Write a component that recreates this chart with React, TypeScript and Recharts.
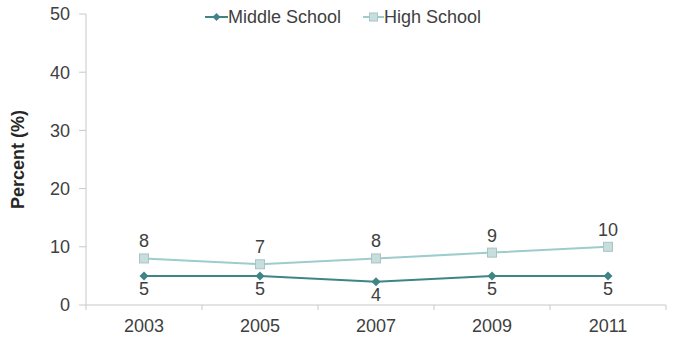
import { LineChart, Line, XAxis, YAxis, LabelList } from 'recharts';

const years = ['2003', '2005', '2007', '2009', '2011'];
const middleSchool = [5, 5, 4, 5, 5];
const highSchool = [8, 7, 8, 9, 10];
const yTicks = [0, 10, 20, 30, 40, 50];

const MIDDLE = '#3f8585';
const HIGH = '#9dcccc';
const TEXT = '#404040';
const AXIS = '#c8c8c8';
const FONT = '"Liberation Sans", Arial, sans-serif';

const W = 673;
const H = 337;
const LEFT = 86;
const RIGHT = 7;
const HALF_BAND = (W - LEFT - RIGHT) / years.length / 2;

const data = years.map((year, i) => ({
  year,
  middle: middleSchool[i],
  high: highSchool[i],
}));

// year label under each point, tick marks sit on the band edges
const YearTick = (props: any) => {
  const { x, y, payload, index } = props;
  return (
    <g>
      <line x1={x - HALF_BAND} x2={x - HALF_BAND} y1={y - 8} y2={y - 3} stroke={AXIS} />
      {index === years.length - 1 && (
        <line x1={x + HALF_BAND} x2={x + HALF_BAND} y1={y - 8} y2={y - 3} stroke={AXIS} />
      )}
      <text x={x} y={y + 19} textAnchor="middle" fill={TEXT} fontSize={18} fontFamily={FONT}>
        {payload.value}
      </text>
    </g>
  );
};

const Diamond = (props: any) => {
  const { cx, cy } = props;
  if (cx == null || cy == null) return null;
  return <path d={`M${cx},${cy - 4.5}L${cx + 4.5},${cy}L${cx},${cy + 4.5}L${cx - 4.5},${cy}Z`} fill={MIDDLE} />;
};

const Square = (props: any) => {
  const { cx, cy } = props;
  if (cx == null || cy == null) return null;
  return <rect x={cx - 4.5} y={cy - 4.5} width={9} height={9} fill="#c6dede" stroke="#a9c4c4" strokeWidth={1} />;
};

const LegendBox = () => (
  <div
    style={{
      position: 'absolute',
      left: 205,
      top: 6,
      display: 'flex',
      gap: 22,
      fontFamily: FONT,
      fontSize: 18,
      lineHeight: '22px',
      color: TEXT,
    }}
  >
    <span style={{ display: 'flex', alignItems: 'center' }}>
      <svg width={23} height={12}>
        <line x1={0} x2={23} y1={6} y2={6} stroke={MIDDLE} strokeWidth={2} />
        <path d="M11.5,2L15.5,6L11.5,10L7.5,6Z" fill={MIDDLE} />
      </svg>
      Middle School
    </span>
    <span style={{ display: 'flex', alignItems: 'center' }}>
      <svg width={21} height={12}>
        <line x1={0} x2={21} y1={6} y2={6} stroke={HIGH} strokeWidth={2} />
        <rect x={6.5} y={2} width={8} height={8} fill="#c6dede" stroke="#a9c4c4" />
      </svg>
      High School
    </span>
  </div>
);

export default function App() {
  return (
    <div style={{ position: 'absolute', left: 0, top: 0, width: W, height: H, background: '#fff' }}>
      <LineChart width={W} height={H} data={data} margin={{ top: 14, right: RIGHT, left: 26, bottom: 0 }}>
        <XAxis
          dataKey="year"
          stroke={AXIS}
          tickLine={false}
          tick={<YearTick />}
          height={32}
          padding={{ left: HALF_BAND, right: HALF_BAND }}
          interval={0}
        />
        <YAxis
          domain={[0, 50]}
          ticks={yTicks}
          width={60}
          stroke={AXIS}
          tickSize={7}
          tickMargin={9}
          tick={{ fill: TEXT, fontSize: 18, fontFamily: FONT }}
          label={{
            value: 'Percent (%)',
            angle: -90,
            position: 'insideLeft',
            offset: -8,
            style: { fill: '#262626', fontSize: 18, fontWeight: 'bold', fontFamily: FONT, textAnchor: 'middle' },
          }}
        />
        <Line
          dataKey="middle"
          name="Middle School"
          stroke={MIDDLE}
          strokeWidth={2}
          dot={<Diamond />}
          activeDot={false}
          isAnimationActive={false}
        >
          <LabelList dataKey="middle" position="bottom" offset={6} fill={TEXT} fontSize={18} fontFamily={FONT} />
        </Line>
        <Line
          dataKey="high"
          name="High School"
          stroke={HIGH}
          strokeWidth={2}
          dot={<Square />}
          activeDot={false}
          isAnimationActive={false}
        >
          <LabelList dataKey="high" position="top" offset={11} fill={TEXT} fontSize={18} fontFamily={FONT} />
        </Line>
      </LineChart>
      <LegendBox />
    </div>
  );
}
